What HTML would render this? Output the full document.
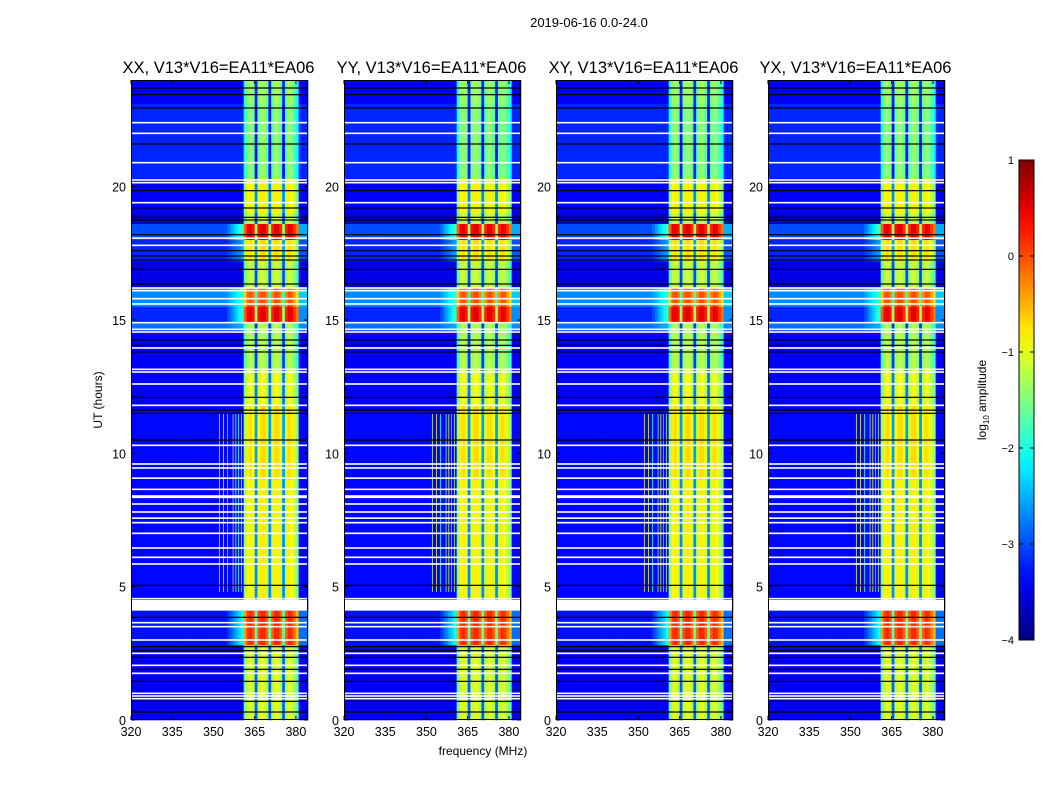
<!DOCTYPE html>
<html><head><meta charset="utf-8"><style>
body{margin:0;background:#fff;}
svg text{font-family:"Liberation Sans",sans-serif;}
</style></head><body>
<svg id="fig" width="1050" height="800" xmlns="http://www.w3.org/2000/svg">
<rect width="1050" height="800" fill="#fff"/>
<text x="589" y="27" font-size="13" text-anchor="middle">2019-06-16 0.0-24.0</text>
<text x="483" y="755" font-size="12" text-anchor="middle">frequency (MHz)</text>
<text transform="translate(102,400) rotate(-90)" font-size="12" text-anchor="middle">UT (hours)</text>
<g id="panels"></g>
<g id="cbar"></g>
</svg>
<script>
// ---- data ----
const panelTitles = ["XX, V13*V16=EA11*EA06","YY, V13*V16=EA11*EA06","XY, V13*V16=EA11*EA06","YX, V13*V16=EA11*EA06"];
const xTicks = [320,335,350,365,380];
const yTicks = [0,5,10,15,20];
const cbTicks = [1,0,-1,-2,-3,-4];
const segStart = [23.1,20.3,19.0,18.6,18.0,17.2,16.2,15.5,14.9,14.6,13.1,11.8,9.0,4.5,4.1,2.8,0.0];
const segEnd   = [24.0,23.1,20.3,19.0,18.6,18.0,17.2,16.2,15.5,14.9,14.6,13.1,11.8,9.0,4.5,4.1,2.8];
const segBg    = [-3.4,-3.2,-3.4,-3.6,-3.0,-3.2,-3.5,-2.7,-3.2,-2.8,-3.4,-3.4,-3.35,-3.35,-3.4,-3.3,-3.4];
const segBand  = [-1.6,-1.7,-1.1,-1.4,0.2,-1.0,-1.4,-0.3,0.2,-1.5,-1.5,-1.2,-1.0,-1.1,-3.4,-0.1,-1.3];
const segSpill = [0,0,0,0,1.2,0.6,0,0.8,1.3,0.3,0,0,0,0,0,1.2,0];
const bandFreq  = [360,361,362,363,364,365,366,367,368,369,370,371,372,373,374,375,376,377,378,379,380,381,382,383,384];
const bandShape = [null,-0.3,0.2,0.3,0.1,-1.6,0.1,0.3,0.3,0.0,-1.6,0.0,0.3,0.3,0.0,-1.6,0.0,0.3,0.2,-0.1,-0.4,null,null,null,null];
const whiteRows = [22.4,22.0,20.9,20.25,20.15,19.4,18.07,17.8,16.2,16.1,15.8,15.6,14.9,14.65,14.55,13.95,13.15,13.05,12.6,11.8,10.3,9.6,9.45,9.07,8.65,8.4,8.35,8.1,7.8,7.57,7.4,7.0,6.45,6.1,5.85,4.55,3.65,3.5,3.0,2.5,2.05,1.75,1.0,0.9,0.8];
const blackRows = [23.7,23.45,22.95,21.6,19.85,19.2,18.85,18.75,18.2,17.6,17.4,17.25,16.9,16.35,14.25,14.05,13.8,12.1,11.62,11.5,10.5,5.05,3.85,2.75,2.6,2.35,1.9,1.45,0.7,0.3];
const rfiFreq  = [352,353.5,355,357,358,359,360];
const rfiLevel = [-1.2,-0.8,-2.0,-1.5,-1.0,-2.0,-1.3];
const rfiStart = 4.8, rfiEnd = 11.5;

const panelX = [131,344,556,768], PW = 177, PY = 80, PH = 640;
const F0 = 320, F1 = 384.4, T0 = 0, T1 = 24;
function xs(p,f){return panelX[p] + (f-F0)/(F1-F0)*PW;}
function ys(t){return PY + PH - (t-T0)/(T1-T0)*PH;}
function jet(v){
  let x=(v+4)/5; x=Math.max(0,Math.min(1,x));
  const c=t=>Math.max(0,Math.min(1,t));
  const r=c(Math.min(4*x-1.5,-4*x+4.5)), g=c(Math.min(4*x-0.5,-4*x+3.5)), b=c(Math.min(4*x+0.5,-4*x+2.5));
  return `rgb(${Math.round(r*255)},${Math.round(g*255)},${Math.round(b*255)})`;
}
const NS="http://www.w3.org/2000/svg";
function mk(tag,attrs,parent){const e=document.createElementNS(NS,tag);for(const k in attrs)e.setAttribute(k,attrs[k]);parent.appendChild(e);return e;}
const panels=document.getElementById('panels');
for(let p=0;p<4;p++){
  const g=mk('g',{},panels);
  
  
  const hm=mk('g',{},g);
  
  
  for(let s=0;s<segStart.length;s++){
    const y0=ys(segEnd[s]), y1=ys(segStart[s]);
    for(let f=320;f<384.4;f++){
      let v=segBg[s];
      const bi=bandFreq.indexOf(f);
      if(bi>=0 && bandShape[bi]!==null){ v=segBand[s]+bandShape[bi]; }
      else if(f>=355 && f<361){ v=segBg[s]+segSpill[s]*(f-354)/6; }
      else if(f>=381){ v=segBg[s]+segSpill[s]*0.4; }
      const x0=xs(p,f), x1=xs(p,Math.min(f+1,F1));
      const r=mk('rect',{x:x0,y:y0,width:x1-x0+0.3,height:y1-y0+0.3,fill:jet(v)},hm);
      
      
    }
  }
  for(let i=0;i<rfiFreq.length;i++){
    const r=mk('rect',{x:xs(p,rfiFreq[i]),y:ys(rfiEnd),width:0.8,height:ys(rfiStart)-ys(rfiEnd),fill:jet(rfiLevel[i])},hm);
    
    
  }
  for(const t of blackRows){
    const r=mk('rect',{x:panelX[p],y:ys(t)-0.6,width:PW,height:1.2,fill:'#000'},hm);
    
    
  }
  for(const t of whiteRows){
    const r=mk('rect',{x:panelX[p],y:ys(t)-0.8,width:PW,height:1.6,fill:'#fff'},hm);
    
    
  }
  const fb=mk('rect',{x:panelX[p],y:ys(4.5),width:PW,height:ys(4.1)-ys(4.5),fill:'#fff'},hm);
  
  
  const fr=mk('rect',{x:panelX[p]+0.5,y:PY+0.5,width:PW-1,height:PH-1,fill:'none',stroke:'#000','stroke-width':1},g);
  
  
  const tt=mk('text',{x:panelX[p]+PW/2-1,y:73,'font-size':'16.5','text-anchor':'middle'},g);
  tt.textContent=panelTitles[p];
  
  
  for(const f of xTicks){
    const x=xs(p,f);
    mk('line',{x1:x,x2:x,y1:PY+PH,y2:PY+PH-4,stroke:'#000'},g);
    mk('line',{x1:x,x2:x,y1:PY,y2:PY+4,stroke:'#000'},g);
    const t=mk('text',{x:x,y:PY+PH+16,'font-size':'12.5','text-anchor':'middle'},g);
    t.textContent=f;
    
    
  }
  for(const h of yTicks){
    const y=ys(h);
    mk('line',{x1:panelX[p],x2:panelX[p]+4,y1:y,y2:y,stroke:'#000'},g);
    mk('line',{x1:panelX[p]+PW,x2:panelX[p]+PW-4,y1:y,y2:y,stroke:'#000'},g);
    const t=mk('text',{x:panelX[p]-5,y:y+5,'font-size':'12.5','text-anchor':'end'},g);
    t.textContent=h;
    
    
  }
}
const cb=document.getElementById('cbar');


const CX=1019, CW=15, CY=160, CH=480;
const defs=mk('defs',{},cb);
const lg=mk('linearGradient',{id:'jetg',x1:0,y1:1,x2:0,y2:0},defs);
for(let i=0;i<=20;i++){mk('stop',{offset:i/20,'stop-color':jet(-4+5*i/20)},lg);}
mk('rect',{x:CX,y:CY,width:CW,height:CH,fill:'url(#jetg)',stroke:'#000','stroke-width':1},cb);
for(const v of cbTicks){
  const y=CY+CH-(v+4)/5*CH;
  mk('line',{x1:CX,x2:CX+4,y1:y,y2:y,stroke:'#000'},cb);
  mk('line',{x1:CX+CW,x2:CX+CW-4,y1:y,y2:y,stroke:'#000'},cb);
  const t=mk('text',{x:CX-5,y:y+4,'font-size':'11','text-anchor':'end'},cb);
  t.textContent=v<0?'\u2212'+(-v):v;
  
  
}
const cl=mk('text',{transform:'translate(986,400) rotate(-90)','font-size':'12','text-anchor':'middle'},cb);
cl.innerHTML='log<tspan font-size="8" dy="3">10</tspan><tspan dy="-3"> amplitude</tspan>';


</script>
</body></html>
